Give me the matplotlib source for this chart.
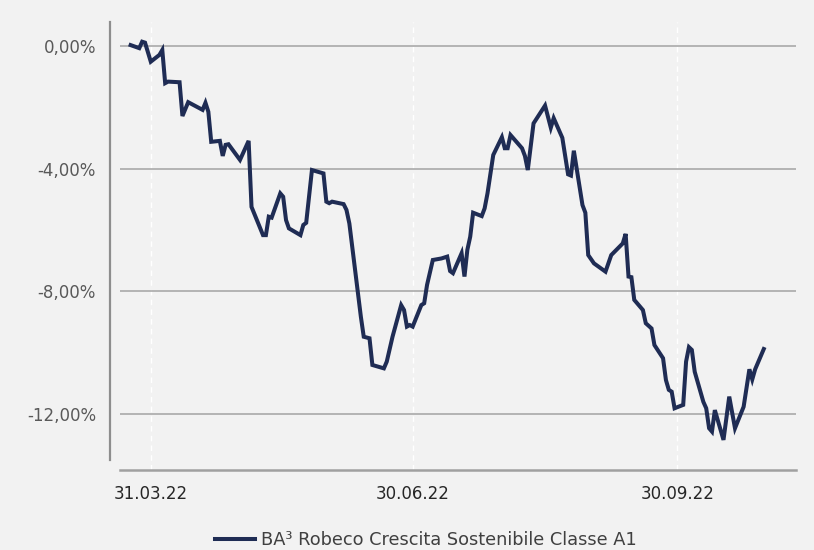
"""Fund performance line chart (BA³ Robeco Crescita Sostenibile Classe A1)"""

import matplotlib
matplotlib.use("Agg")
import matplotlib.pyplot as plt
import matplotlib.dates as mdates
import pandas as pd

# Data: cumulative performance in %
dates = [
    "2022-03-24", "2022-03-27", "2022-03-28", "2022-03-29", "2022-03-31",
    "2022-04-03", "2022-04-04", "2022-04-05", "2022-04-06", "2022-04-10",
    "2022-04-11", "2022-04-13", "2022-04-18", "2022-04-19", "2022-04-20",
    "2022-04-21", "2022-04-24", "2022-04-25", "2022-04-26", "2022-04-27",
    "2022-05-01", "2022-05-04", "2022-05-05", "2022-05-09", "2022-05-10",
    "2022-05-11", "2022-05-12", "2022-05-15", "2022-05-16", "2022-05-17",
    "2022-05-18", "2022-05-22", "2022-05-23", "2022-05-24", "2022-05-26",
    "2022-05-30", "2022-05-31", "2022-06-01", "2022-06-02", "2022-06-06",
    "2022-06-07", "2022-06-08", "2022-06-12", "2022-06-13", "2022-06-15",
    "2022-06-16", "2022-06-20", "2022-06-21", "2022-06-23", "2022-06-26",
    "2022-06-27", "2022-06-28", "2022-06-29", "2022-06-30", "2022-07-03",
    "2022-07-04", "2022-07-05", "2022-07-07", "2022-07-10", "2022-07-12",
    "2022-07-13", "2022-07-14", "2022-07-17", "2022-07-18", "2022-07-19",
    "2022-07-20", "2022-07-21", "2022-07-24", "2022-07-25", "2022-07-26",
    "2022-07-28", "2022-07-31", "2022-08-01", "2022-08-02", "2022-08-03",
    "2022-08-07", "2022-08-08", "2022-08-09", "2022-08-11", "2022-08-15",
    "2022-08-17", "2022-08-18", "2022-08-21", "2022-08-23", "2022-08-24",
    "2022-08-25", "2022-08-28", "2022-08-29", "2022-08-30", "2022-09-01",
    "2022-09-05", "2022-09-07", "2022-09-11", "2022-09-12", "2022-09-13",
    "2022-09-14", "2022-09-15", "2022-09-18", "2022-09-19", "2022-09-21",
    "2022-09-22", "2022-09-25", "2022-09-26", "2022-09-27", "2022-09-28",
    "2022-09-29", "2022-10-02", "2022-10-03", "2022-10-04", "2022-10-05",
    "2022-10-06", "2022-10-09", "2022-10-10", "2022-10-11", "2022-10-12",
    "2022-10-13", "2022-10-16", "2022-10-18", "2022-10-20", "2022-10-23",
    "2022-10-25", "2022-10-26", "2022-10-27", "2022-10-30",
]
values = [
    0.02, -0.08, 0.13, 0.10, -0.52,
    -0.30, -0.14, -1.22, -1.17, -1.19,
    -2.29, -1.84, -2.09, -1.86, -2.15,
    -3.13, -3.10, -3.59, -3.23, -3.21,
    -3.72, -3.10, -5.25, -6.17, -6.17,
    -5.57, -5.60, -4.81, -4.92, -5.68,
    -5.95, -6.17, -5.84, -5.77, -4.05,
    -4.16, -5.08, -5.13, -5.08, -5.16,
    -5.35, -5.79, -8.83, -9.48, -9.53,
    -10.40, -10.51, -10.29, -9.48, -8.45,
    -8.61, -9.15, -9.10, -9.15, -8.45,
    -8.39, -7.79, -6.98, -6.93, -6.87,
    -7.34, -7.41, -6.76, -7.52, -6.65,
    -6.22, -5.44, -5.55, -5.30, -4.81,
    -3.56, -2.98, -3.34, -3.34, -2.91,
    -3.34, -3.59, -4.05, -2.53, -1.95,
    -2.67, -2.36, -3.00, -4.19, -4.23,
    -3.42, -5.19, -5.44, -6.82, -7.09,
    -7.36, -6.82, -6.44, -6.13, -7.52,
    -7.54, -8.28, -8.61, -9.04, -9.21,
    -9.75, -10.18, -10.89, -11.21, -11.27,
    -11.81, -11.70, -10.29, -9.82, -9.91,
    -10.62, -11.60, -11.81, -12.46, -12.57,
    -11.87, -12.84, -11.43, -12.46, -11.76,
    -10.54, -10.87, -10.54, -9.88,
]
series_name = "BA³ Robeco Crescita Sostenibile Classe A1"
tick_dates = ["2022-03-31", "2022-06-30", "2022-09-30"]
tick_labels = ["31.03.22", "30.06.22", "30.09.22"]
y_ticks = [0, -4, -8, -12]

bg = "#f2f2f2"
navy = "#1f2c54"
font = "DejaVu Sans"

x = pd.to_datetime(dates)
x_ticks = pd.to_datetime(tick_dates)
base = mdates.date2num(pd.Timestamp("2022-03-31"))

fig = plt.figure(figsize=(8.14, 5.50), dpi=100, facecolor=bg)
ax = fig.add_axes([0.1474, 0.1455, 0.8305, 0.8145], facecolor=bg)

ax.plot(x, values, color=navy, linewidth=2.9, solid_joinstyle="miter",
        label=series_name)

ax.set_xlim(base - 10.7, base + 224.2)
ax.set_ylim(-13.82, 0.772)

ax.set_yticks(y_ticks)
ax.set_yticklabels([f"{v:.2f}%".replace(".", ",") for v in y_ticks])
ax.set_xticks(x_ticks)
ax.set_xticklabels(tick_labels)

# grid: grey horizontals, white dashed verticals
ax.yaxis.grid(True, color="#a9a9a9", linewidth=1.2)
ax.xaxis.grid(True, color="white", linewidth=1.0, linestyle=(0, (4, 3)))
ax.set_axisbelow(True)

for s in ["top", "right"]:
    ax.spines[s].set_visible(False)
ax.spines["left"].set_position(("outward", 7.2))
ax.spines["left"].set_bounds(-13.49, 0.772)
ax.spines["left"].set_color("#8e8e8e")
ax.spines["left"].set_linewidth(1.6)
ax.spines["bottom"].set_color("#a0a0a0")
ax.spines["bottom"].set_linewidth(1.8)

ax.tick_params(axis="both", length=0)
ax.tick_params(axis="y", pad=10, labelsize=12, labelcolor="#595959")
ax.tick_params(axis="x", pad=11, labelsize=12, labelcolor="#262626")
for lab in ax.get_xticklabels() + ax.get_yticklabels():
    lab.set_family(font)

leg = fig.legend(loc="center", bbox_to_anchor=(426 / 814, 1 - 540 / 550),
                 frameon=False, handlelength=2.25, handletextpad=0.35,
                 prop={"family": font, "size": 12.8})
for t in leg.get_texts():
    t.set_color("#404040")

fig.savefig("out.png", dpi=100, facecolor=bg)
